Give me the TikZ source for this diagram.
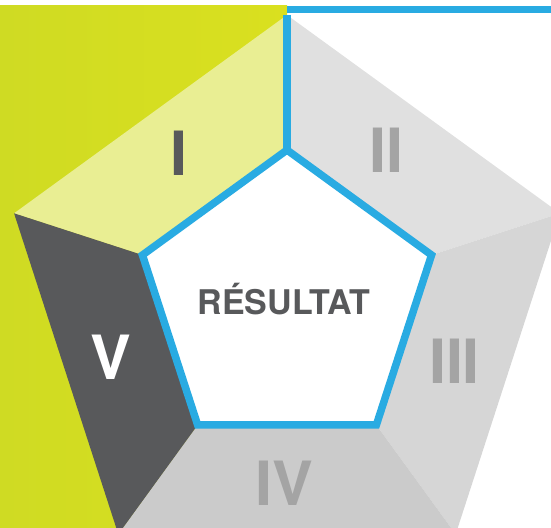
\documentclass[tikz,border=0pt]{standalone}
\usepackage{fontspec}
\setsansfont{TeX Gyre Heros}
\definecolor{limeL}{HTML}{CFDB23}
\definecolor{limeR}{HTML}{DAE01F}
\definecolor{paleLime}{HTML}{E9EE93}
\definecolor{greyA}{HTML}{E0E0E0}
\definecolor{greyB}{HTML}{D6D6D6}
\definecolor{greyC}{HTML}{CBCBCB}
\definecolor{darkGrey}{HTML}{58595B}
\definecolor{numGrey}{HTML}{A4A4A4}
\definecolor{lineBlue}{HTML}{29ABE2}

\begin{document}
\begin{tikzpicture}[x=1pt, y=1pt,
        segment/.style={draw=none},
        numeral/.style={font=\sffamily\bfseries\fontsize{61}{61}\selectfont, anchor=base, inner sep=0pt},
        result/.style={font=\sffamily\bfseries\fontsize{34}{34}\selectfont, anchor=base, inner sep=0pt, text=darkGrey},
        outline/.style={draw=lineBlue, line width=7.5pt, line join=miter}
    ]

    \useasboundingbox (0,0) rectangle (551,527);
    \clip (0,0) rectangle (551,527);

    % Pentagon corners (outer and inner)
    \coordinate (c) at (287,225);
    \foreach \i/\a in {1/90, 2/18, 3/-54, 4/-126, 5/162} {
        \coordinate (o\i) at ([shift={(\a:287)}]c);
        \coordinate (i\i) at ([shift={(\a:152)}]c);
    }

    % Background band
    \shade[left color=limeL, right color=limeR] (0,0) rectangle (287,521);

    % Segments
    \fill[segment, paleLime] (o1) -- (i1) -- (i5) -- (o5) -- cycle;
    \fill[segment, greyA] (o1) -- (o2) -- (i2) -- (i1) -- cycle;
    \fill[segment, greyB] (o2) -- (o3) -- (i3) -- (i2) -- cycle;
    \fill[segment, greyC] (o3) -- (o4) -- (i4) -- (i3) -- cycle;
    \fill[segment, darkGrey] (o4) -- (o5) -- (i5) -- (i4) -- cycle;

    % Centre and blue line
    \fill[white] (i1) -- (i2) -- (i3) -- (i4) -- (i5) -- cycle;
    \draw[outline] (i1) -- (i2) -- (i3) -- (i4) -- (i5) -- cycle;
    \draw[outline, line cap=butt] (o1) -- (i1);
    \coordinate (topL) at (287,517.5);
    \coordinate (topR) at (551,517.5);
    \draw[outline] (topL) -- (topR);

    % Labels
    \node[numeral, text=darkGrey] (n1) at (179,351) {I};
    \node[numeral, text=numGrey] (n2) at (386.5,354) {II};
    \node[numeral, text=numGrey] (n3) at (454.5,143) {III};
    \node[numeral, text=numGrey] (n4) at (284.5,22) {IV};
    \node[numeral, text=white] (n5) at (111,147) {V};
    \node[result] (res) at (284,212) {RÉSULTAT};

\end{tikzpicture}
\end{document}
